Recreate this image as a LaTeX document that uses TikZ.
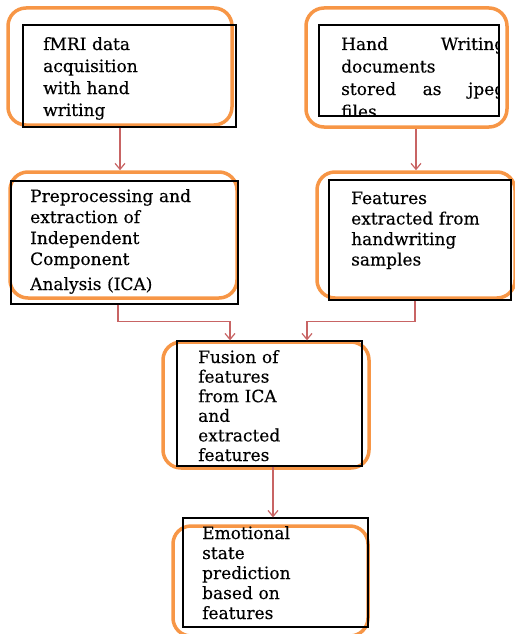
\documentclass[tikz,border=0pt]{standalone}
\usepackage{fontspec}
\setmainfont[FakeBold=0.3]{DejaVu Serif}
\usetikzlibrary{positioning, arrows.meta}

\definecolor{ringorange}{RGB}{247,150,70}
\definecolor{flowred}{RGB}{200,100,100}

\tikzset{
  blackbox/.style={draw=black, line width=1.3pt, inner sep=0pt},
  ringbox/.style={draw=ringorange, line width=3.5pt, rounded corners=18pt, inner sep=0pt},
  boxtext/.style={anchor=base west, inner sep=0pt, align=left, text width=190pt, font=\fontsize{17}{22}\selectfont},
  flow/.style={->, draw=flowred, line width=1.2pt}
}

\begin{document}
\begin{tikzpicture}[x=1pt, y=-1pt, >={Straight Barb[length=6pt, width=10pt]}]

\useasboundingbox (0,0) rectangle (514,634);

% Orange rings
\node[ringbox, minimum width=224pt, minimum height=117pt] (fmriring) at (120,66.5) {};
\node[ringbox, minimum width=227pt, minimum height=126pt] (icaring) at (123.5,235) {};
\node[ringbox, minimum width=201pt, minimum height=119pt] (jpegring) at (406.5,67.5) {};
\node[ringbox, minimum width=198pt, minimum height=126pt] (featring) at (416,235) {};
\node[ringbox, minimum width=206pt, minimum height=126pt] (fusionring) at (266,405) {};
\node[ringbox, minimum width=195pt, minimum height=110pt] (emotionring) at (270.5,581) {};

% Black boxes
\node[blackbox, minimum width=213pt, minimum height=102pt] (fmri) at (129.5,76) {};
\node[blackbox, minimum width=227pt, minimum height=123pt] (ica) at (124.5,242.5) {};
\node[blackbox, minimum width=180pt, minimum height=91pt] (jpeg) at (409,70.5) {};
\node[blackbox, minimum width=182pt, minimum height=120pt] (feat) at (420,240) {};
\node[blackbox, minimum width=185pt, minimum height=125pt] (fusion) at (269.5,403.5) {};
\node[blackbox, minimum width=185pt, minimum height=109pt] (emotion) at (275.5,572.5) {};

% Texts
\node[boxtext] (fmritxt) at (43,50) {fMRI data\\acquisition\\with hand\\writing};
\node[boxtext, font=\fontsize{17}{21}\selectfont] (icatxt) at (30,202)
  {Preprocessing and\\extraction of\\Independent\\Component\\[4pt]Analysis (ICA)};
\begin{scope}
  \clip (319,25) rectangle (499,116);
  \node[boxtext, text width=164pt, font=\fontsize{17}{22.5}\selectfont] (jpegtxt) at (341,50)
    {Hand\hfill Writing\\documents\\stored\hfill as\hfill jpeg\\files};
\end{scope}
\node[boxtext, font=\fontsize{17}{20.5}\selectfont] (feattxt) at (351,204)
  {Features\\extracted from\\handwriting\\samples};
\node[boxtext, font=\fontsize{17}{19.6}\selectfont] (fusiontxt) at (198,363)
  {Fusion of\\features\\from ICA\\and\\extracted\\features};
\node[boxtext, font=\fontsize{17}{20}\selectfont] (emotiontxt) at (202,539)
  {Emotional\\state\\prediction\\based on\\features};

% Connectors
\draw[flow] ([xshift=-9.5pt]fmri.south) -- ([xshift=-9.5pt]fmri.south |- icaring.north);
\draw[flow] ([xshift=9.5pt]jpegring.south) -- ([xshift=9.5pt]jpegring.south |- featring.north);
\draw[flow] ([xshift=-6.5pt]ica.south) -- ++(0,17) -| ([xshift=-39.5pt]fusion.north);
\draw[flow] ([xshift=-5pt]feat.south) -- ++(0,21) -| ([xshift=37.5pt]fusion.north);
\draw[flow] ([xshift=3.5pt]fusion.south) -- ([xshift=3.5pt]fusion.south |- emotion.north);

\end{tikzpicture}
\end{document}
